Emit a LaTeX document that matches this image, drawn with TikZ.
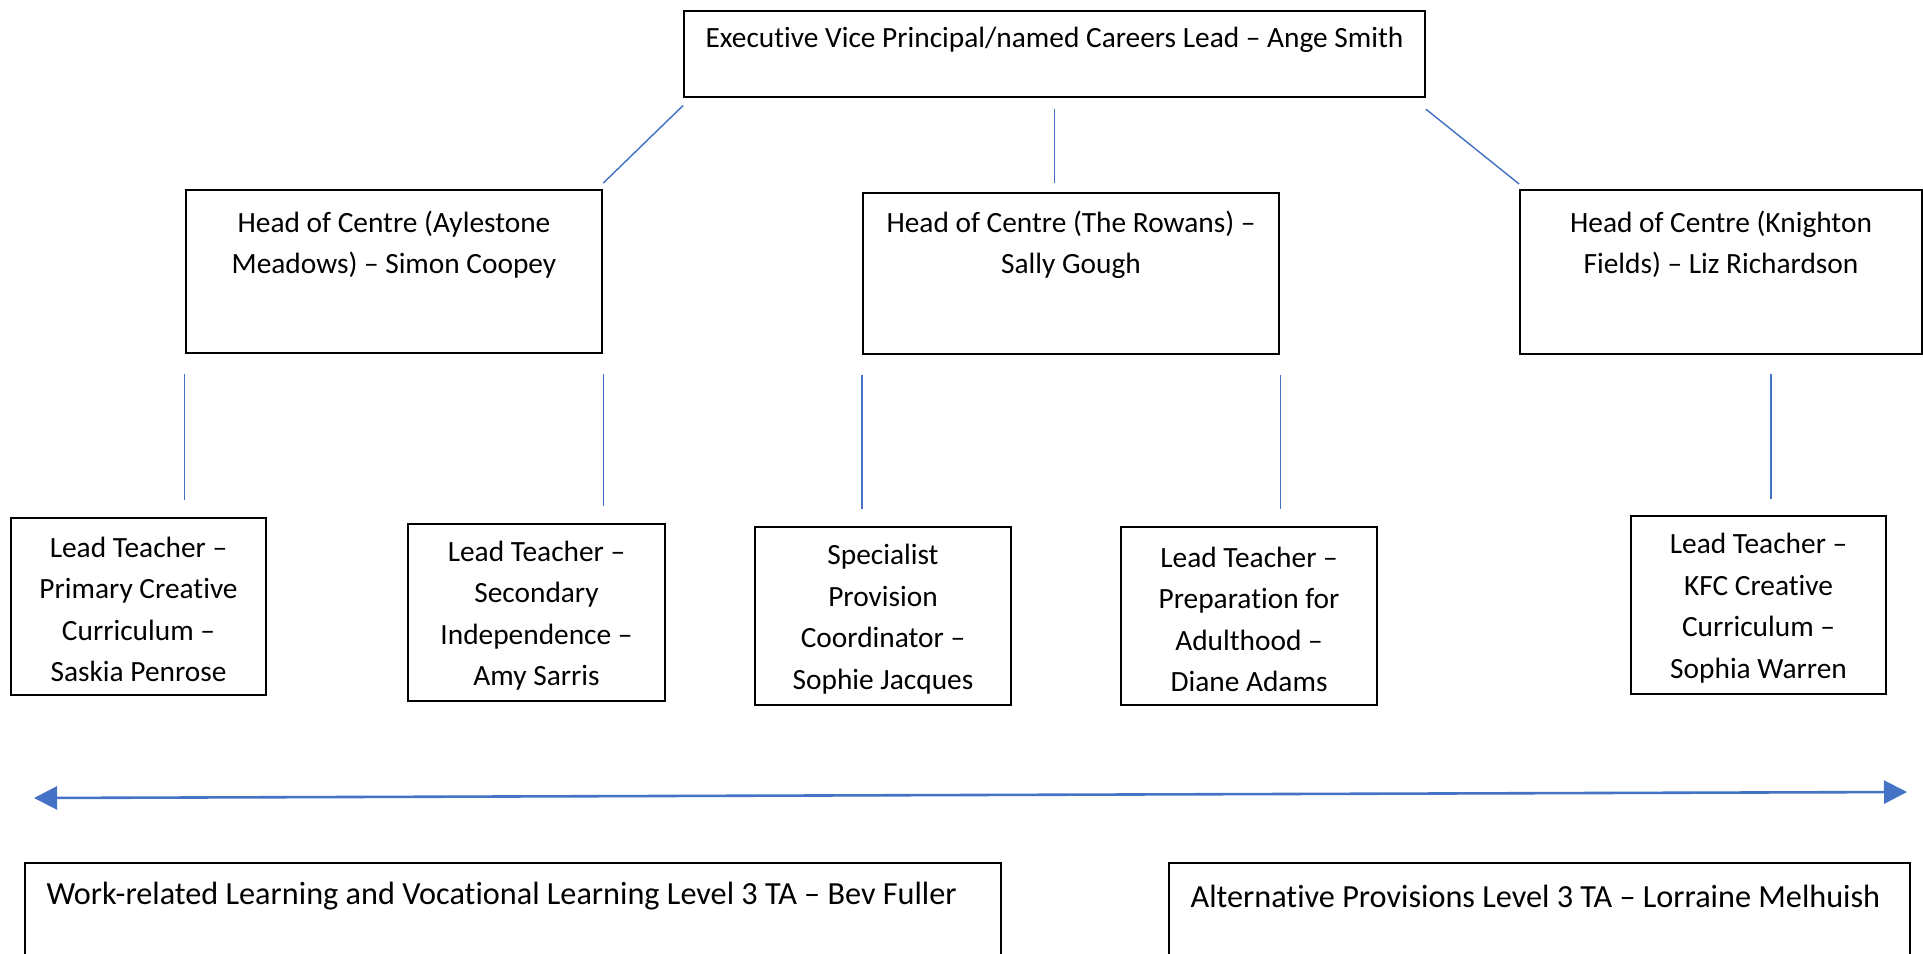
\documentclass[tikz,border=0pt]{standalone}
\usepackage{fontspec}
\setmainfont{Carlito}[Ligatures={TeX,NoCommon}]
\usetikzlibrary{arrows.meta}
\definecolor{linkblue}{HTML}{4472C4}
\tikzset{
  box/.style={draw=black, line width=0.8pt, rectangle, inner sep=0pt},
  txt/.style={font=\fontsize{10.2}{14.4}\selectfont, align=center, inner sep=0pt},
  widetxt/.style={txt, font=\fontsize{11.2}{14.4}\selectfont, anchor=west},
  link/.style={draw=linkblue, line width=0.5pt},
}

\begin{document}
\begin{tikzpicture}[x=0.0122cm,y=-0.0122cm]
\clip (0,0) rectangle (1923,953);
% boxes
\node[box,minimum width=9.04cm,minimum height=1.05cm] (evp) at (1054.5,54) {};
\node[txt] (evptxt) at (1054.5,40) {Executive Vice Principal/named Careers Lead -- Ange Smith};

\node[box,minimum width=5.08cm,minimum height=1.99cm] (aylestone) at (394,271.5) {};
\node[txt] (aylestonetxt) at (394,244.5) {Head of Centre (Aylestone\\Meadows) -- Simon Coopey};
\node[box,minimum width=5.08cm,minimum height=1.96cm] (rowans) at (1071,273.5) {};
\node[txt] (rowanstxt) at (1071,245) {Head of Centre (The Rowans) --\\Sally Gough};
\node[box,minimum width=4.90cm,minimum height=2.0cm] (knighton) at (1721,272) {};
\node[txt] (knightontxt) at (1721,244.5) {Head of Centre (Knighton\\Fields) -- Liz Richardson};

\node[box,minimum width=3.11cm,minimum height=2.16cm] (primary) at (138.5,606.5) {};
\node[txt] (primarytxt) at (138.5,609.5) {Lead Teacher --\\Primary Creative\\Curriculum --\\Saskia Penrose};
\node[box,minimum width=3.14cm,minimum height=2.16cm] (secondary) at (536.5,612.5) {};
\node[txt] (secondarytxt) at (536.5,615.7) {Lead Teacher --\\Secondary\\Independence --\\Amy Sarris};
\node[box,minimum width=3.12cm,minimum height=2.17cm] (specialist) at (883,616) {};
\node[txt] (specialisttxt) at (883,619.3) {Specialist\\Provision\\Coordinator --\\Sophie Jacques};
\node[box,minimum width=3.12cm,minimum height=2.17cm] (adulthood) at (1249,616) {};
\node[txt] (adulthoodtxt) at (1249,619.3) {Lead Teacher --\\Preparation for\\Adulthood --\\Diane Adams};
\node[box,minimum width=3.11cm,minimum height=2.17cm] (kfc) at (1758.5,605) {};
\node[txt] (kfctxt) at (1758.5,608.3) {Lead Teacher --\\KFC Creative\\Curriculum --\\Sophia Warren};

\node[box,minimum width=11.91cm,minimum height=1.83cm] (wrl) at (513,938) {};
\node[widetxt] (wrltxt) at (46,896) {Work-related Learning and Vocational Learning Level 3 TA -- Bev Fuller};
\node[box,minimum width=9.04cm,minimum height=1.83cm] (altprov) at (1539.5,938) {};
\node[widetxt] (altprovtxt) at (1190,896) {Alternative Provisions Level 3 TA -- Lorraine Melhuish};

% connectors
\draw[link] ([yshift=-0.09cm]evp.south west) -- ([yshift=0.07cm]aylestone.north east);
\draw[link,shorten <=3.8pt,shorten >=3pt] (evp.south) -- (evp.south |- rowans.north);
\draw[link] ([yshift=-0.135cm]evp.south east) -- ([yshift=0.06cm]knighton.north west);

\draw[link,shorten <=7pt,shorten >=6pt] (aylestone.south west) -- (aylestone.south west |- primary.north);
\draw[link,shorten <=7pt,shorten >=6pt] (aylestone.south east) -- (aylestone.south east |- secondary.north);
\draw[link,shorten <=7pt,shorten >=6pt] (rowans.south west) -- (rowans.south west |- specialist.north);
\draw[link,shorten <=7pt,shorten >=6pt] (rowans.south east) -- (rowans.south east |- adulthood.north);
\coordinate (kfcjoin) at ([xshift=0.61cm]knighton.south);
\draw[link,shorten <=6.5pt,shorten >=5.5pt] (kfcjoin) -- (kfcjoin |- kfc.north);

% double arrow
\coordinate (arrl) at (34,798);
\coordinate (arrr) at (1907,792);
\draw[linkblue,line width=0.9pt,{Triangle[length=8pt,width=8pt]}-{Triangle[length=8pt,width=8pt]}] (arrl) -- (arrr);
\end{tikzpicture}
\end{document}
